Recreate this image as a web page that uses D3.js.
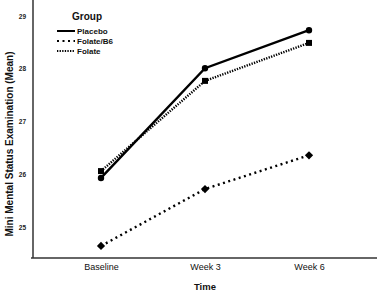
<!DOCTYPE html>
<html>
<head>
<meta charset="utf-8">
<script src="https://cdn.jsdelivr.net/npm/d3@7"></script>
<style>
  body { margin: 0; background: #fff; }
  svg text { font-family: "Liberation Sans", Arial, sans-serif; fill: #111; }
</style>
</head>
<body>
<div id="chart" style="width:380px;height:293px;"></div>
<script>
const timepoints = ["Baseline", "Week 3", "Week 6"];
const yTicks = [25, 26, 27, 28, 29];
const groupNames = ["Placebo", "Folate/B6", "Folate"];
const placeboVals = [25.93, 28.01, 28.73];
const folateB6Vals = [24.64, 25.72, 26.36];
const folateVals = [26.06, 27.77, 28.49];

function drawChart(containerId) {
  const width = 380, height = 293;
  const margin = { top: 0, right: 3, bottom: 35, left: 33 };
  const iW = width - margin.left - margin.right;
  const iH = height - margin.top - margin.bottom;

  const svg = d3.select(`#${containerId}`)
    .append("svg")
    .attr("width", width)
    .attr("height", height)
    .append("g")
    .attr("transform", `translate(${margin.left},${margin.top})`);

  const x = d3.scalePoint().domain(timepoints).range([68, 276]);
  const y = d3.scaleLinear().domain([29, 25]).range([16, 227]);

  // axes
  svg.append("g")
    .attr("transform", `translate(0,${iH})`)
    .call(d3.axisBottom(x).tickSize(0).tickPadding(6))
    .call(g => g.select(".domain").attr("d", `M-2,0H${iW}`).attr("stroke", "#333").attr("stroke-width", 1.5))
    .call(g => g.selectAll("text").style("font-size", "9px").style("fill", "#111"));

  svg.append("g")
    .call(d3.axisLeft(y).tickValues(yTicks).tickFormat(d3.format("d")).tickSize(0).tickPadding(7))
    .call(g => g.select(".domain").attr("d", `M0,0V${iH}`).attr("stroke", "#333").attr("stroke-width", 1.5))
    .call(g => g.selectAll("text").style("font-size", "6.5px").style("font-weight", "bold").style("fill", "#222"));

  svg.append("text")
    .attr("x", 172)
    .attr("y", iH + 32)
    .attr("text-anchor", "middle")
    .style("font-size", "9.5px")
    .style("font-weight", "bold")
    .text("Time");

  svg.append("text")
    .attr("transform", "rotate(-90)")
    .attr("x", -144)
    .attr("y", -20)
    .attr("text-anchor", "middle")
    .style("font-size", "10px")
    .style("font-weight", "bold")
    .text("Mini Mental Status Examination (Mean)");

  const line = d3.line().x((d, i) => x(timepoints[i])).y(d => y(d));

  const series = [
    { name: groupNames[0], vals: placeboVals, dash: null, width: 2.4, marker: "circle" },
    { name: groupNames[1], vals: folateB6Vals, dash: "2,3.5", width: 2.4, marker: "diamond" },
    { name: groupNames[2], vals: folateVals, dash: "1.3,1.3", width: 2.4, marker: "square" }
  ];

  series.forEach(s => {
    svg.append("path")
      .datum(s.vals)
      .attr("d", line)
      .attr("fill", "none")
      .attr("stroke", "#000")
      .attr("stroke-width", s.width)
      .attr("stroke-dasharray", s.dash);

    const sym = s.marker === "circle" ? d3.symbolCircle : d3.symbolSquare;
    const size = s.marker === "diamond" ? 34 : s.marker === "square" ? 36 : 32;
    const rot = s.marker === "diamond" ? 45 : 0;
    svg.selectAll(null)
      .data(s.vals)
      .join("path")
      .attr("transform", (d, i) => `translate(${x(timepoints[i])},${y(d)}) rotate(${rot})`)
      .attr("d", d3.symbol().type(sym).size(size))
      .attr("fill", "#000");
  });

  // legend
  const lg = svg.append("g").attr("transform", "translate(24,0)");
  lg.append("text")
    .attr("x", 15).attr("y", 20)
    .style("font-size", "10px")
    .style("font-weight", "bold")
    .text("Group");
  series.forEach((s, i) => {
    const ly = 31 + i * 10;
    lg.append("line")
      .attr("x1", 0).attr("x2", 18)
      .attr("y1", ly).attr("y2", ly)
      .attr("stroke", "#000")
      .attr("stroke-width", 2)
      .attr("stroke-dasharray", s.dash);
    lg.append("text")
      .attr("x", 20).attr("y", ly + 3)
      .style("font-size", "8px")
      .style("font-weight", "bold")
      .text(s.name);
  });
}

drawChart("chart");
</script>
</body>
</html>
